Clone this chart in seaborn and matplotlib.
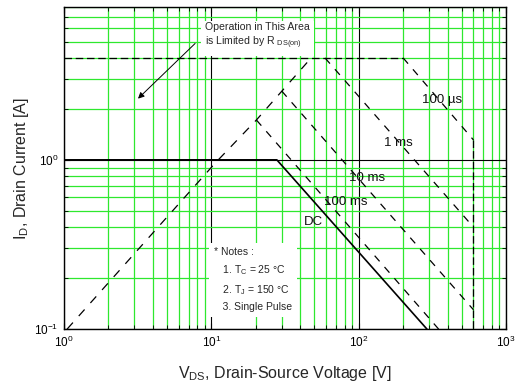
import matplotlib
matplotlib.use("Agg")
import matplotlib.pyplot as plt
from matplotlib import font_manager
from matplotlib.ticker import LogLocator, NullFormatter
import seaborn as sns

# SOA curves (V in volts, I in amps)
rds_v = [1.05, 10.6, 20.2, 47.5]
rds_i = [0.1, 0.956, 1.72, 4.0]
limit_v = [1, 200]
limit_i = [4, 4]
us100_v = [200, 600]
us100_i = [4, 1.31]
vmax_v = [600, 600]
vmax_i = [1.31, 0.1]
ms1_v = [59, 600]
ms1_i = [4, 0.40]
ms10_v = [30, 600]
ms10_i = [2.55, 0.13]
ms100_v = [20.2, 348]
ms100_i = [1.72, 0.1]
dc_v = [1, 27.8, 290]
dc_i = [1, 1, 0.1]

curve_labels = ["100 \u00b5s", "1 ms", "10 ms", "100 ms", "DC"]
label_v = [368, 185, 114, 81, 49]
label_i = [2.26, 1.26, 0.78, 0.564, 0.43]

arrow_from = (8.0, 5.0)
arrow_to = (3.08, 2.24)

sns.set_style("ticks")
names = {f.name for f in font_manager.fontManager.ttflist}
fam = "Liberation Sans Narrow" if "Liberation Sans Narrow" in names else "Liberation Sans"
plt.rcParams["font.family"] = [fam, "DejaVu Sans"]
plt.rcParams["mathtext.fontset"] = "custom"
plt.rcParams["mathtext.rm"] = fam
plt.rcParams["mathtext.it"] = fam

fig = plt.figure(figsize=(5.16, 3.89), dpi=100)
ax = fig.add_axes([0.124, 0.154, 0.857, 0.828])
ax.set_xscale("log")
ax.set_yscale("log")
ax.set_xlim(1, 1000)
ax.set_ylim(0.1, 8)

# grid: green minor lines, black decade lines
ax.set_axisbelow(True)
ax.xaxis.set_minor_locator(LogLocator(base=10, subs=range(2, 10)))
ax.yaxis.set_minor_locator(LogLocator(base=10, subs=range(2, 10)))
ax.xaxis.set_minor_formatter(NullFormatter())
ax.yaxis.set_minor_formatter(NullFormatter())
ax.grid(which="minor", color="#2ee82e", lw=0.9)
ax.grid(which="major", color="black", lw=0.8)

dash_kw = dict(color="black", lw=0.9, estimator=None, sort=False, legend=False)
sns.lineplot(x=rds_v, y=rds_i, linestyle=(0, (7, 7)), ax=ax, **dash_kw)
sns.lineplot(x=limit_v, y=limit_i, linestyle=(0, (6, 3)), ax=ax, **dash_kw)
sns.lineplot(x=us100_v, y=us100_i, linestyle=(0, (6, 6)), ax=ax, **dash_kw)
sns.lineplot(x=vmax_v, y=vmax_i, linestyle=(0, (6, 2.5)), ax=ax, **dash_kw)
sns.lineplot(x=ms1_v, y=ms1_i, linestyle=(0, (6, 6)), ax=ax, **dash_kw)
sns.lineplot(x=ms10_v, y=ms10_i, linestyle=(0, (6, 6)), ax=ax, **dash_kw)
sns.lineplot(x=ms100_v, y=ms100_i, linestyle=(0, (6, 6)), ax=ax, **dash_kw)
sns.lineplot(x=dc_v, y=dc_i, color="black", lw=1.2, estimator=None, sort=False, ax=ax)

for lab, v, i in zip(curve_labels, label_v, label_i):
    ax.text(v, i, lab, fontsize=9.5, ha="center", va="center", color="#111111")

ax.text(9.06, 5.35, "Operation in This Area\nis Limited by R $_{\\mathregular{DS(on)}}$",
        fontsize=7.6, ha="left", va="center", linespacing=1.3,
        bbox=dict(boxstyle="square,pad=0.4", fc="white", ec="none"), zorder=3)
ax.annotate("", xy=arrow_to, xytext=arrow_from,
            arrowprops=dict(arrowstyle="-|>", color="black", lw=0.7, mutation_scale=9))

ax.text(10.4, 0.196,
        "* Notes :\n   1. T$_{\\mathregular{C}}$ = 25 \u00b0C\n   2. T$_{\\mathregular{J}}$ = 150 \u00b0C\n   3. Single Pulse",
        fontsize=7.5, ha="left", va="center", linespacing=1.6,
        bbox=dict(boxstyle="square,pad=0.45", fc="white", ec="none"), zorder=3)

ax.tick_params(which="both", direction="in", top=True, right=True, colors="black")
ax.tick_params(which="major", length=4, labelsize=8.5, pad=4)
ax.tick_params(which="minor", length=3)
for s in ax.spines.values():
    s.set_color("black")
    s.set_linewidth(1.0)

ax.set_xlabel("V$_{\\mathregular{DS}}$, Drain-Source Voltage [V]", fontsize=11.5, labelpad=10)
ax.set_ylabel("I$_{\\mathregular{D}}$, Drain Current [A]", fontsize=11.5, labelpad=2)

fig.savefig("out.png", dpi=100)
